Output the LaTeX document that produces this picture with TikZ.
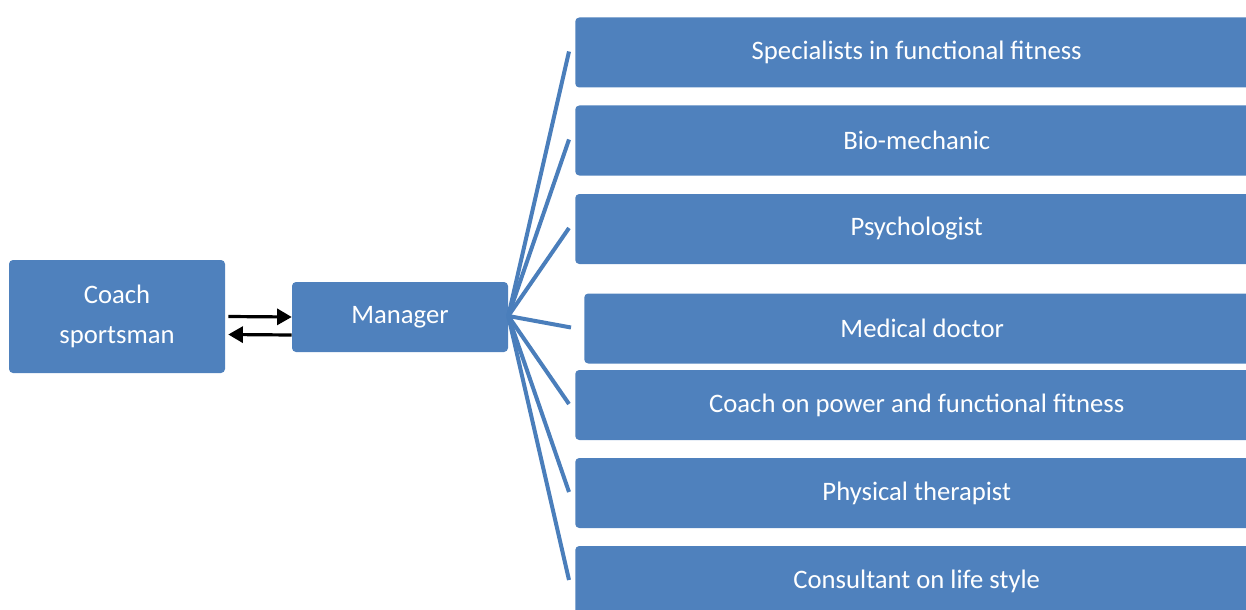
\documentclass[tikz,border=0pt]{standalone}
\usepackage{fontspec}
\setmainfont{Carlito}
\usepackage{tikz}
\usetikzlibrary{calc,arrows.meta,positioning}
\definecolor{boxfill}{HTML}{4F81BD}
\definecolor{linkblue}{HTML}{4A7EBB}
\definecolor{arrowink}{HTML}{000000}
\tikzset{
  box/.style={fill=boxfill, rounded corners=3pt, text=white, align=center,
    font=\fontsize{20}{30.5}\selectfont, inner sep=0pt},
  wide/.style={box, minimum width=512.25pt, minimum height=52.5pt, anchor=west},
  link/.style={draw=linkblue, line width=3pt, line cap=butt},
  arr/.style={draw=arrowink, line width=2.4pt, -{Triangle[length=11pt,width=12pt]}},
}

\begin{document}
\begin{tikzpicture}[x=0.75pt, y=-0.75pt]
\useasboundingbox (0,0) rectangle (1246,610);
% left side
\node[box, minimum width=162pt, minimum height=84.75pt] (coach) at (117,316.5) {Coach\\sportsman};
\node[box, minimum width=162pt, minimum height=52.5pt] (mgr) at (400,317) {Manager};
\draw[arr] ($(coach.east)+(3,0)$) -- (mgr.west);
\draw[arr] ($(mgr.west)+(0,18)$) -- ($(coach.east)+(3,18)$);
% right column
\node[wide] (spec) at (575,52.5) {Specialists in functional fitness};
\node[wide] (bio) at (575,140.5) {Bio-mechanic};
\node[wide] (psych) at (575,229) {Psychologist};
\node[wide, minimum width=507pt] (doctor) at (584,328.5) {Medical doctor};
\node[wide] (power) at (575,405) {Coach on power and functional fitness};
\node[wide] (therapist) at (575,493) {Physical therapist};
\node[wide] (consult) at (575,581) {Consultant on life style};
% fan of links
\coordinate (hub) at ($(mgr.east)+(0,-1)$);
\foreach \n/\dx in {spec/-6,bio/-6,psych/-6,doctor/-13,power/-6,therapist/-6,consult/-6}
  \draw[link] (hub) -- ($(\n.west)+(\dx,-1)$);
\end{tikzpicture}
\end{document}
